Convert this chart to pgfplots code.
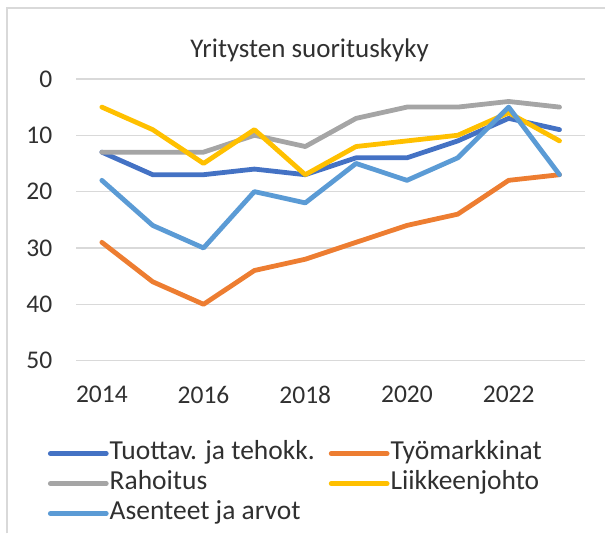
\documentclass[border=0pt]{standalone}
\usepackage{pgfplots}
\pgfplotsset{compat=1.18}
\usepackage{fontspec}
\setmainfont{Carlito}
\definecolor{cA}{HTML}{4472C4}
\definecolor{cB}{HTML}{ED7D31}
\definecolor{cC}{HTML}{A5A5A5}
\definecolor{cD}{HTML}{FFC000}
\definecolor{cE}{HTML}{5B9BD5}
\definecolor{txt}{HTML}{303030}
\definecolor{grd}{HTML}{D9D9D9}
\begin{document}
\begin{tikzpicture}[x=1pt,y=1pt]
\path (0,0) rectangle (606,534);
\draw[grd, line width=1.2pt] (7,0) -- (7,526) -- (606,526);
\node[txt, font=\fontsize{27}{32}\selectfont] at (310,484) {Yritysten suorituskyky};
\begin{axis}[
  at={(76.5pt,173pt)}, anchor=south west,
  scale only axis, width=509pt, height=282pt,
  xmin=2013.5, xmax=2023.5,
  ymin=0, ymax=50, y dir=reverse,
  xtick={2014,2016,...,2022}, ytick={0,10,...,50},
  xticklabel style={/pgf/number format/1000 sep={}},
  /pgf/number format/assume math mode=true,
  tick label style={font=\fontsize{25.5}{30}\selectfont, text=txt},
  yticklabel style={inner sep=0pt, anchor=east, xshift=-24pt},
  xticklabel style={inner sep=0pt, anchor=north, yshift=-25pt},
  axis line style={draw=none},
  major tick style={draw=none},
  ymajorgrids, grid style={grd, line width=1.2pt},
  every axis plot/.append style={line width=4.8pt, line join=round, line cap=round},
  legend columns=2,
  legend cell align=left,
  legend image code/.code={\draw[#1, line cap=round] (0pt,0pt) -- (56pt,0pt);},
  legend style={at={(-0.056,-0.284)}, anchor=north west, draw=none, fill=none,
    inner sep=0pt, outer sep=0pt,
    font=\fontsize{27.5}{32}\selectfont, text=txt,
    row sep=4pt,
    nodes={inner sep=1pt, text height=18pt, text depth=6pt},
    /tikz/every even column/.append style={column sep=13pt}},
]
\addplot[cA] coordinates {(2014,13)(2015,17)(2016,17)(2017,16)(2018,17)(2019,14)(2020,14)(2021,11)(2022,7)(2023,9)};
\addlegendentry{Tuottav. ja tehokk.}
\addplot[cB] coordinates {(2014,29)(2015,36)(2016,40)(2017,34)(2018,32)(2019,29)(2020,26)(2021,24)(2022,18)(2023,17)};
\addlegendentry{Työmarkkinat}
\addplot[cC] coordinates {(2014,13)(2015,13)(2016,13)(2017,10)(2018,12)(2019,7)(2020,5)(2021,5)(2022,4)(2023,5)};
\addlegendentry{Rahoitus}
\addplot[cD] coordinates {(2014,5)(2015,9)(2016,15)(2017,9)(2018,17)(2019,12)(2020,11)(2021,10)(2022,6)(2023,11)};
\addlegendentry{Liikkeenjohto}
\addplot[cE] coordinates {(2014,18)(2015,26)(2016,30)(2017,20)(2018,22)(2019,15)(2020,18)(2021,14)(2022,5)(2023,17)};
\addlegendentry{Asenteet ja arvot}
\end{axis}
\end{tikzpicture}
\end{document}
